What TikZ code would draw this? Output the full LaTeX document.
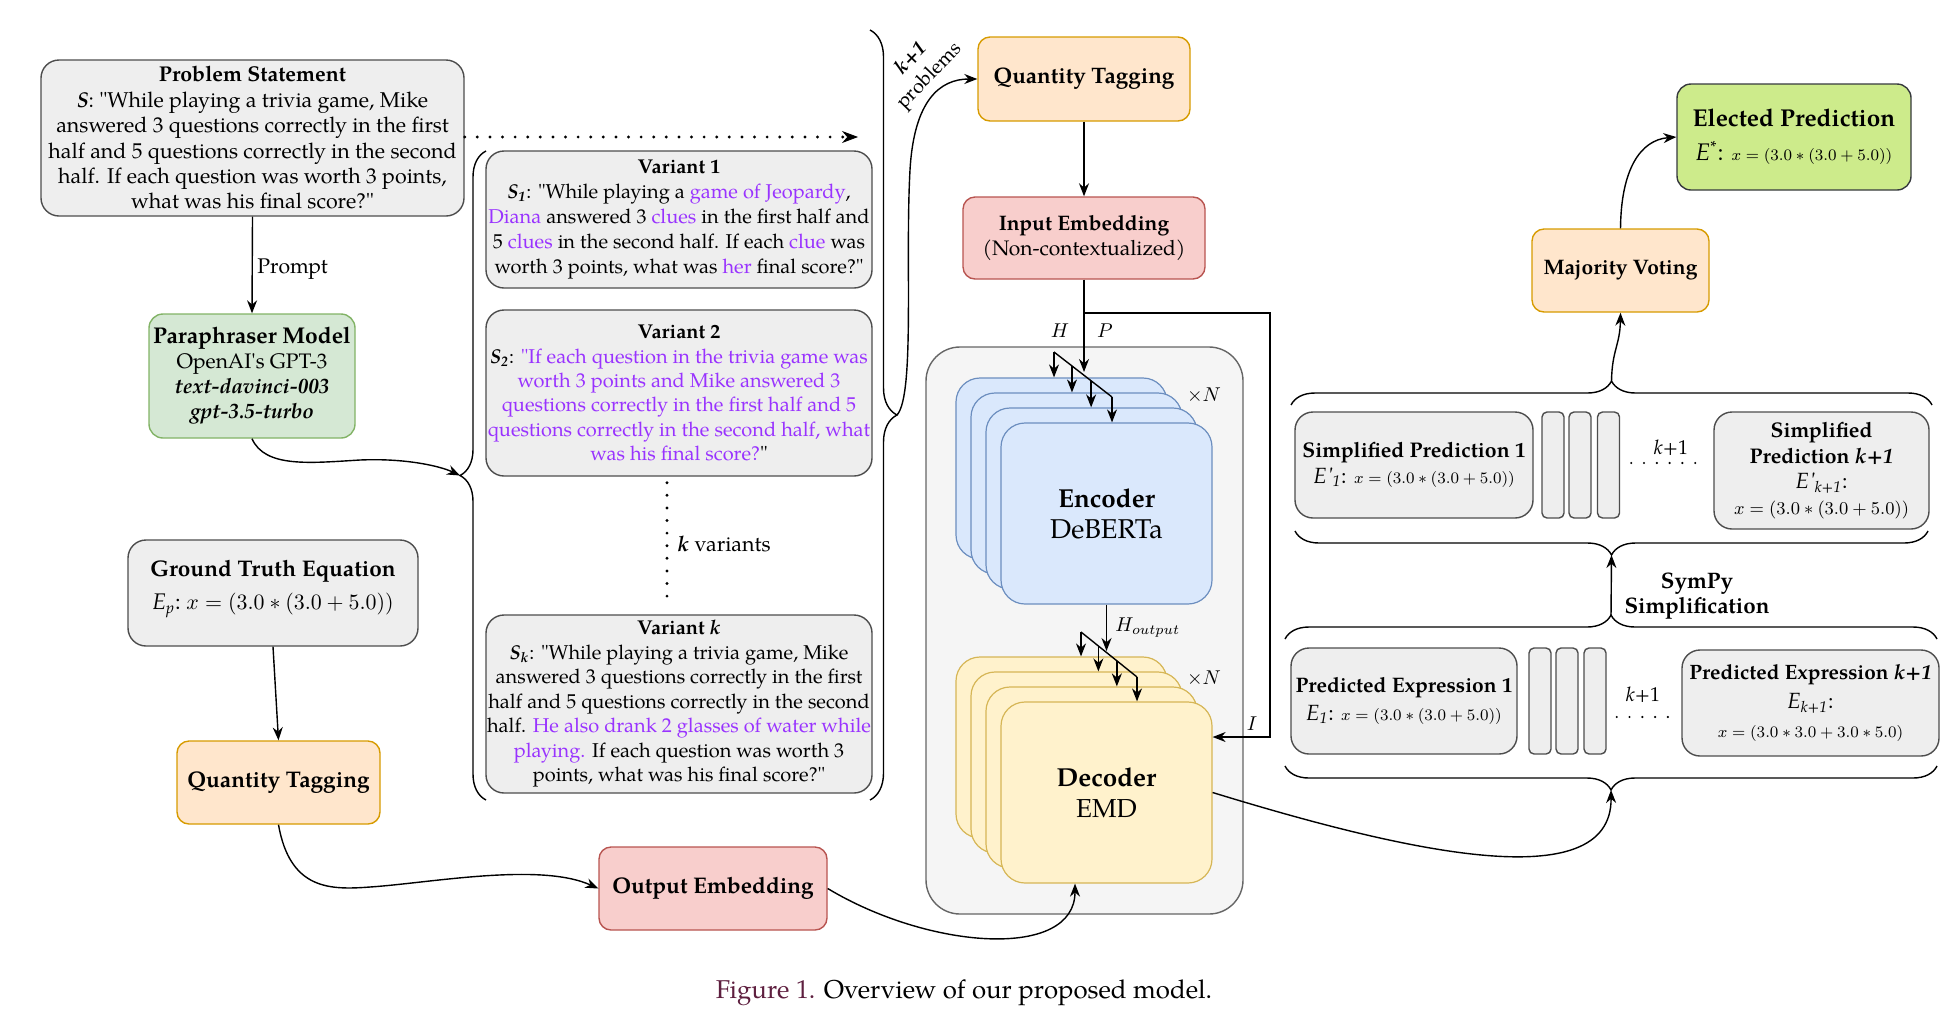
\documentclass[tikz,border=0pt]{standalone}
\usepackage[no-math]{fontspec}
\setmainfont{TeX Gyre Pagella}
\usetikzlibrary{arrows.meta,decorations.pathreplacing,calc}
\definecolor{purp}{HTML}{9933FF}
\definecolor{gfill}{HTML}{EEEEEE}
\definecolor{gdraw}{HTML}{4D4D4D}
\definecolor{ofill}{HTML}{FFE6CC}
\definecolor{odraw}{HTML}{D79B00}
\definecolor{rfill}{HTML}{F8CECC}
\definecolor{rdraw}{HTML}{B85450}
\definecolor{grfill}{HTML}{D5E8D4}
\definecolor{grdraw}{HTML}{82B366}
\definecolor{bfill}{HTML}{DAE8FC}
\definecolor{bdraw}{HTML}{6C8EBF}
\definecolor{yfill}{HTML}{FFF2CC}
\definecolor{ydraw}{HTML}{D6B656}
\definecolor{cfill}{HTML}{F5F5F5}
\definecolor{cdraw}{HTML}{666666}
\definecolor{efill}{HTML}{CDEB8B}
\definecolor{edraw}{HTML}{36393D}
\definecolor{capc}{HTML}{5E1F3F}
\newcommand{\pp}[1]{\textcolor{purp}{#1}}
\newcommand{\fsz}[2]{\fontsize{#1}{#2}\selectfont}
\newcommand{\myeq}{$x=(3.0\ast(3.0+5.0))$}
\newcommand{\qd}{\textquotedbl}
\begin{document}
\begin{tikzpicture}[x=0.5pt,y=-0.5pt,
  every node/.style={inner sep=0pt, align=center, font=\fsz{10}{12.5}},
  wh/.style 2 args={minimum width=#1pt, minimum height=#2pt},
  gbox/.style={draw=gdraw, fill=gfill, line width=0.7pt, rounded corners=9pt},
  obox/.style={draw=odraw, fill=ofill, line width=0.7pt, rounded corners=6pt},
  rbox/.style={draw=rdraw, fill=rfill, line width=0.7pt, rounded corners=6pt},
  grbox/.style={draw=grdraw, fill=grfill, line width=0.7pt, rounded corners=7pt},
  ebox/.style={draw=edraw, fill=efill, line width=0.7pt, rounded corners=7pt},
  encbox/.style={draw=bdraw, fill=bfill, line width=0.6pt, rounded corners=12pt, wh={105.5}{90.5}},
  decbox/.style={draw=ydraw, fill=yfill, line width=0.6pt, rounded corners=12pt, wh={105.5}{90.5}},
  slim/.style={draw=gdraw, fill=gfill, line width=0.7pt, rounded corners=2.5pt, wh={11}{53}},
  ln/.style={line width=0.7pt},
  con/.style={line width=0.7pt, -{Stealth[length=6.5pt,width=5pt]}},
  dotl/.style={line width=1.6pt, dash pattern=on 0pt off 6.3pt, line cap=round},
  dots/.style={line width=1.2pt, dash pattern=on 0pt off 6.4pt, line cap=round},
  cbrace/.style={decorate, decoration={brace, amplitude=#1}, line width=0.7pt}
]
\useasboundingbox (0,0) rectangle (1957,1018);

% ---------- left column ----------
\node[gbox, wh={211.5}{78}, font=\fsz{10.7}{12.7}] (ps) at (252.5,138) {\textbf{Problem Statement}\\
\textbf{\textit{S}}: \qd While playing a trivia game, Mike\\
answered 3 questions correctly in the first\\
half and 5 questions correctly in the second\\
half. If each question was worth 3 points,\\
what was his final score?\qd};

\node[grbox, wh={103}{62}, font=\fsz{10.5}{12.5}] (para) at (252,376) {{\fsz{11.4}{12.5}\textbf{Paraphraser Model}}\\
OpenAI\textquotesingle s GPT-3\\
\textbf{\textit{text-davinci-003}}\\
\textbf{\textit{gpt-3.5-turbo}}};

\node[gbox, wh={145}{53}] (gt) at (273,593) {};
\node[font=\fsz{11.3}{13}] (gtt) at (273,589) {\textbf{Ground Truth Equation}\\[3.5pt]
\textit{E}\textsubscript{\textit{p}}:\ \myeq};

\node[obox, wh={101.5}{41.5}, font=\fsz{11.3}{13}] (qt2) at (278.5,782.5) {\textbf{Quantity Tagging}};
\node[rbox, wh={114}{41.5}, font=\fsz{11.3}{13}] (oe) at (713,888.5) {\textbf{Output Embedding}};

% ---------- variants ----------
\node[gbox, wh={193}{68.5}, font=\fsz{10}{12.4}] (v1) at (679,219.5) {\textbf{Variant 1}\\
\textbf{\textit{S}}\textsubscript{\textbf{\textit{1}}}: \qd While playing a \pp{game of Jeopardy},\\
\pp{Diana} answered 3 \pp{clues} in the first half and\\
5 \pp{clues} in the second half. If each \pp{clue} was\\
worth 3 points, what was \pp{her} final score?\qd};

\node[gbox, wh={193}{83}, font=\fsz{10}{12.2}] (v2) at (679,393) {\textbf{Variant 2}\\
\textbf{\textit{S}}\textsubscript{\textbf{\textit{2}}}: \pp{\qd If each question in the trivia game was}\\
\pp{worth 3 points and Mike answered 3}\\
\pp{questions correctly in the first half and 5}\\
\pp{questions correctly in the second half, what}\\
\pp{was his final score?}\qd};

\node[gbox, wh={193}{89}, font=\fsz{10}{12.25}] (vk) at (679,704) {\textbf{Variant \textit{k}}\\
\textbf{\textit{S}}\textsubscript{\textbf{\textit{k}}}: \qd While playing a trivia game, Mike\\
answered 3 questions correctly in the first\\
half and 5 questions correctly in the second\\
half. \pp{He also drank 2 glasses of water while}\\
\pp{playing.} If each question was worth 3\\
points, what was his final score?\qd};

\draw[dotl] ([xshift=-6pt,yshift=-3pt]v2.south) -- ([xshift=-6pt,yshift=6pt]vk.north);
\node[anchor=west, font=\fsz{10.7}{12.5}] (kv) at (677,544) {\textbf{\textit{k}} variants};

% braces
\draw[cbrace=13pt] (486,800) -- (486,151);
\coordinate (lbt) at (460,475.5);
\draw[cbrace=13.5pt] (870,30) -- (870,800);
\coordinate (rbt) at (897,415);

% connectors left
\draw[con] (ps.south) -- (para.north);
\node[anchor=west, font=\fsz{10.6}{12.5}] (prompt) at (257,269) {Prompt};
\draw[con] (para.south) .. controls (265,468) and (310,463) .. (360,460) .. controls (405,458) and (440,466) .. (lbt);
\coordinate (dend) at (858,137);
\draw[dotl, -{Stealth[length=8pt,width=6pt,line width=0.4pt]}] (ps.east |- dend) -- (dend);
\draw[con] (gt.south) -- (qt2.north);
\draw[con] (qt2.south) .. controls (290,890) and (330,890) .. (370,887) .. controls (430,883) and (540,862) .. (oe.west);

% ---------- centre ----------
\node[obox, wh={106}{42}, font=\fsz{11.2}{13}] (qt) at (1084,79) {\textbf{Quantity Tagging}};
\node[rbox, wh={121}{41}, font=\fsz{10.5}{12.5}] (ie) at (1084,238) {\textbf{Input Embedding}\\(Non-contextualized)};
\draw[con] (rbt) .. controls (915,395) and (905,260) .. (910,170) .. controls (914,100) and (940,79) .. (qt.west);
\node[rotate=46] (kp) at (921,68) {\textbf{\textit{k+1}}\\problems};
\draw[con] (qt.south) -- (ie.north);

\node[draw=cdraw, fill=cfill, line width=0.7pt, rounded corners=17pt, wh={158.5}{283.5}] (cont) at (1084.5,630.5) {};

\node[encbox] (e1) at (1061.5,468.5) {};
\node[encbox] (e2) at (1076.5,483.5) {};
\node[encbox] (e3) at (1091.5,498.5) {};
\node[encbox, font=\fsz{13.6}{15.5}] (e4) at (1106.5,513.5) {{\fsz{13}{15.5}\textbf{Encoder}}\\DeBERTa};

\node[decbox] (d1) at (1061.5,747.5) {};
\node[decbox] (d2) at (1076.5,762.5) {};
\node[decbox] (d3) at (1091.5,777.5) {};
\node[decbox, font=\fsz{13}{15.5}] (d4) at (1106.5,792.5) {\textbf{Decoder}\\EMD};

\node (xn1) at (1204,395) {$\times N$};
\node (xn2) at (1204,678) {$\times N$};

% H / P inputs
\coordinate (pend) at (1084,372);
\coordinate (br) at (1084,313);
\draw[con] (ie.south) -- (pend);
\node (hl) at (1060,331) {$H$};
\node (pl) at (1105,331) {$P$};
\coordinate (hs) at (1054,352);
\coordinate (he) at (1112,397);
\draw[ln] (hs) -- (he);
\coordinate (h2) at ($(hs)!0.31!(he)$);
\coordinate (h3) at ($(hs)!0.64!(he)$);
\draw[con] (hs) -- (hs |- e1.north);
\draw[con] (h2) -- (h2 |- e2.north);
\draw[con] (h3) -- (h3 |- e3.north);
\draw[con] (he) -- (he |- e4.north);

% I input
\coordinate (ic) at (1270,737);
\draw[con] (br) -| (ic) -- (ic -| d4.east);
\node (il) at (1252,724) {$I$};

% H_output
\coordinate (ho) at (1106.5,651);
\draw[con] (e4.south) -- (ho);
\node[anchor=west] (hol) at (1115,628) {$H_{output}$};
\coordinate (ds) at (1081,632);
\coordinate (de) at (1137,677);
\draw[ln] (ds) -- (de);
\coordinate (g2) at ($(ds)!0.31!(de)$);
\coordinate (g3) at ($(ds)!0.64!(de)$);
\draw[con] (ds) -- (ds |- d1.north);
\draw[con] (g2) -- (g2 |- d2.north);
\draw[con] (g3) -- (g3 |- d3.north);
\draw[con] (de) -- (de |- d4.north);

\draw[con] (oe.east) .. controls (930,950) and (1075,960) .. ([xshift=-15.75pt]d4.south);

% ---------- right ----------
\node[ebox, wh={117}{53}, font=\fsz{12}{13}] (ep) at (1794,137) {{\fsz{12.2}{13}\textbf{Elected Prediction}}\\[4pt]
\textit{E}\textsuperscript{*}: {\fsz{8.4}{10}\myeq}};
\node[obox, wh={88.5}{41.5}, font=\fsz{10.5}{13}] (mv) at (1620.5,270.5) {\textbf{Majority Voting}};

\node[gbox, wh={119}{53}, font=\fsz{11}{13}] (sp1) at (1414,465) {{\fsz{10.6}{13}\textbf{Simplified Prediction 1}}\\
\textit{E\textquotesingle}\textsubscript{\textit{1}}: {\fsz{8.4}{10}\myeq}};
\node[slim] (sr1) at (1553,465) {};
\node[slim] (sr2) at (1580,465) {};
\node[slim] (sr3) at (1608.5,465) {};
\node[gbox, wh={107.5}{58.5}, font=\fsz{10.6}{12.8}] (spk) at (1821.5,470.5) {\textbf{Simplified}\\
\textbf{Prediction \textit{k+1}}\\
{\fsz{11}{12.8}\textit{E\textquotesingle}\textsubscript{\textit{k+1}}:}\\
{\fsz{9}{10}\myeq}};
\draw[dots] ([xshift=5.5pt]sr3.east |- 0,463) -- ([xshift=-4pt]spk.west |- 0,463);
\node (kk1) at (1671,448) {\textit{k}+1};

\node[gbox, wh={113}{53}, font=\fsz{11}{14}] (pe1) at (1404,701) {{\fsz{10.5}{14}\textbf{Predicted Expression 1}}\\
\textit{E}\textsubscript{\textit{1}}: {\fsz{8.4}{10}\myeq}};
\node[slim] (pr1) at (1540,701) {};
\node[slim] (pr2) at (1567,701) {};
\node[slim] (pr3) at (1595,701) {};
\node[gbox, wh={128.5}{53}, font=\fsz{11}{14.5}] (pek) at (1810.5,703) {{\fsz{10.4}{14.5}\textbf{Predicted Expression \textit{k+1}}}\\
\textit{E}\textsubscript{\textit{k+1}}:\\
{\fsz{8.4}{10}$x=(3.0\ast3.0+3.0\ast5.0)$}};
\draw[dots] ([xshift=5pt]pr3.east |- 0,717) -- ([xshift=-3pt]pek.west |- 0,717);
\node (kk2) at (1643,695) {\textit{k}+1};

% right braces
\draw[cbrace=12pt] (1291,405) -- (1932,405);
\coordinate (ut1) at (1611.5,381);
\draw[cbrace=12pt] (1928,531) -- (1295,531);
\coordinate (ut2) at (1611.5,555);
\draw[cbrace=12pt] (1285,639) -- (1937,639);
\coordinate (lt1) at (1611,615);
\draw[cbrace=12pt] (1937,766) -- (1285,766);
\coordinate (lt2) at (1611,790);

\draw[con] (lt1) -- (ut2);
\node[font=\fsz{11.2}{12.5}] (sympy) at (1697,596) {\textbf{SymPy}\\\textbf{Simplification}};
\draw[con] (ut1) .. controls (1612,350) and (1620,345) .. (mv.south);
\draw[con] (mv.north) .. controls (1621,170) and (1640,140) .. (ep.west);
\draw[con] (d4.east) .. controls (1400,850) and (1612,900) .. (lt2);

% caption
\node[font=\fsz{12.9}{15}] (cap) at (964,993) {\textcolor{capc}{Figure 1.} Overview of our proposed model.};
\end{tikzpicture}
\end{document}
